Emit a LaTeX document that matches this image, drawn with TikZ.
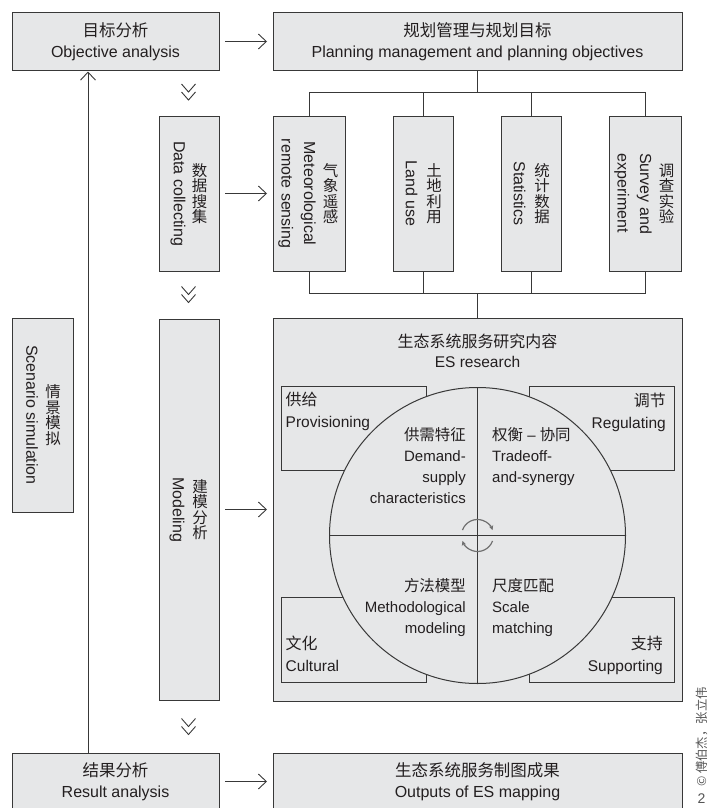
\documentclass[tikz,border=0pt]{standalone}
\usepackage{fontspec}
\setmainfont{Liberation Sans}
\newfontfamily\cjk{Noto Sans CJK SC}[Scale=1.03]
\usetikzlibrary{arrows.meta}
\definecolor{boxfill}{HTML}{E6E7E8}
\definecolor{boxline}{HTML}{383838}
\definecolor{txt}{HTML}{231F20}
\definecolor{cycc}{HTML}{707070}
\definecolor{wm}{HTML}{555555}
\begin{document}
\begin{tikzpicture}[x=1pt,y=1pt,
  box/.style={draw=boxline, fill=boxfill, line width=1pt, inner sep=0pt, outer sep=0pt,
    align=center, text=txt, font=\fontsize{16}{21.5}\selectfont},
  conn/.style={draw=boxline, line width=0.9pt},
  arr/.style={conn, -{Straight Barb[length=8pt,width=15pt]}},
  cn/.style={inner sep=0pt, align=center, text=txt, font=\cjk\fontsize{15}{15.5}\selectfont},
  en/.style={inner sep=0pt, align=center, text=txt, font=\fontsize{16}{22.5}\selectfont, rotate=-90},
  lab/.style={inner sep=0pt, text=txt, font=\fontsize{15.5}{21.5}\selectfont},
  quad/.style={inner sep=0pt, text=txt, font=\fontsize{15}{21}\selectfont},
  chev/.style={draw=boxline, line width=0.9pt},
  cycarr/.style={draw=cycc, line width=1.2pt, -{Stealth[length=4.5pt,width=4.5pt]}},
  dchev/.pic={\draw[chev] (-7,8) -- (0,0) -- (7,8) (-7,0) -- (0,-8) -- (7,0);}
]
\useasboundingbox (0,0) rectangle (708,-808);
\clip (0,0) rectangle (708,-808);

% top row
\node[box, minimum width=207pt, minimum height=57pt] (obj) at (115.5,-41.5)
  {{\cjk 目标分析}\\Objective analysis};
\node[box, minimum width=409pt, minimum height=57pt] (plan) at (477.5,-41.5)
  {{\cjk 规划管理与规划目标}\\Planning management and planning objectives};
\draw[arr, shorten <=6pt, shorten >=6pt] (obj) -- (plan);

% data row
\node[box, minimum width=60pt, minimum height=155pt] (dc) at (189,-193.5) {};
\node[cn] (dcC) at ([xshift=10.5pt]dc.center) {数\\据\\搜\\集};
\node[en] (dcE) at ([xshift=-11pt]dc.center) {Data collecting};

\node[box, minimum width=72pt, minimum height=155pt] (meteo) at (309,-193.5) {};
\node[cn] (meteoC) at ([xshift=21.5pt]meteo.center) {气\\象\\遥\\感};
\node[en] (meteoE) at ([xshift=-12pt]meteo.center) {Meteorological\\remote sensing};

\node[box, minimum width=60pt, minimum height=155pt] (land) at (423,-193.5) {};
\node[cn] (landC) at ([xshift=11pt]land.center) {土\\地\\利\\用};
\node[en] (landE) at ([xshift=-11.5pt]land.center) {Land use};

\node[box, minimum width=60pt, minimum height=155pt] (stat) at (531,-193.5) {};
\node[cn] (statC) at ([xshift=11pt]stat.center) {统\\计\\数\\据};
\node[en] (statE) at ([xshift=-11.5pt]stat.center) {Statistics};

\node[box, minimum width=72pt, minimum height=155pt] (survey) at (645,-193.5) {};
\node[cn] (surveyC) at ([xshift=21.5pt]survey.center) {调\\查\\实\\验};
\node[en] (surveyE) at ([xshift=-12pt]survey.center) {Survey and\\experiment};

\draw[arr, shorten <=6pt, shorten >=6pt] (dc) -- (meteo);

\coordinate (tbus) at (477.5,-92.5);
\coordinate (bbus) at (477.5,-293);
\draw[conn] (plan.south) -- (tbus);
\draw[conn] (meteo.north) |- (survey.north |- tbus) -- (survey.north);
\draw[conn] (land.north) -- (land.north |- tbus);
\draw[conn] (stat.north) -- (stat.north |- tbus);
\draw[conn] (meteo.south) |- (survey.south |- bbus) -- (survey.south);
\draw[conn] (land.south) -- (land.south |- bbus);
\draw[conn] (stat.south) -- (stat.south |- bbus);

% modeling row
\node[box, minimum width=61pt, minimum height=194pt] (sc) at (42.5,-415) {};
\node[cn] (scC) at ([xshift=10.5pt]sc.center) {情\\景\\模\\拟};
\node[en] (scE) at ([xshift=-10.5pt]sc.center) {Scenario simulation};

\node[box, minimum width=60pt, minimum height=381pt] (mod) at (189,-509.5) {};
\node[cn] (modC) at ([xshift=11pt]mod.center) {建\\模\\分\\析};
\node[en] (modE) at ([xshift=-12pt]mod.center) {Modeling};

\node[box, minimum width=409pt, minimum height=383pt] (es) at (477.5,-509.5) {};
\draw[conn] (bbus) -- (es.north);
\draw[arr, shorten <=6pt, shorten >=6pt] (mod) -- (es);

\node[anchor=base, align=center, inner sep=0pt, text=txt, font=\fontsize{15.5}{20}\selectfont]
  (estitle) at (477.5,-367) {{\cjk 生态系统服务研究内容}\\ES research};

\node[box, minimum width=145pt, minimum height=84pt] (prov) at (353.5,-428) {};
\node[box, minimum width=145pt, minimum height=84pt] (reg) at (601.5,-428) {};
\node[box, minimum width=145pt, minimum height=85pt] (cult) at (353.5,-639.5) {};
\node[box, minimum width=145pt, minimum height=85pt] (supp) at (601.5,-639.5) {};

\node[circle, draw=boxline, fill=boxfill, line width=1pt, minimum size=296pt,
  inner sep=0pt, outer sep=0pt] (circ) at (477.5,-535.5) {};
\draw[conn] (circ.north) -- (circ.south);
\draw[conn] (circ.west) -- (circ.east);

\node[lab, anchor=base west, align=left] (provT) at (285.5,-427) {{\cjk 供给}\\Provisioning};
\node[lab, anchor=base east, align=right] (regT) at (666,-428) {{\cjk 调节}\\Regulating};
\node[lab, anchor=base west, align=left] (cultT) at (285.5,-671) {{\cjk 文化}\\Cultural};
\node[lab, anchor=base east, align=right] (suppT) at (663,-671) {{\cjk 支持}\\Supporting};

\node[quad, anchor=base east, align=right] (tlT) at (466,-503)
  {{\cjk 供需特征}\\Demand-\\supply\\characteristics};
\node[quad, anchor=base west, align=left] (trT) at (492,-482)
  {{\cjk 权衡} – {\cjk 协同}\\Tradeoff-\\and-synergy};
\node[quad, anchor=base east, align=right] (blT) at (466,-633)
  {{\cjk 方法模型}\\Methodological\\modeling};
\node[quad, anchor=base west, align=left] (brT) at (492,-633)
  {{\cjk 尺度匹配}\\Scale\\matching};

\draw[cycarr] ([shift={(160:16)}]circ.center) arc[start angle=160, end angle=20, radius=16];
\draw[cycarr] ([shift={(-20:16)}]circ.center) arc[start angle=-20, end angle=-160, radius=16];

% bottom row
\node[box, minimum width=207pt, minimum height=57pt] (res) at (115.5,-781.5)
  {{\cjk 结果分析}\\Result analysis};
\node[box, minimum width=409pt, minimum height=57pt] (out) at (477.5,-781.5)
  {{\cjk 生态系统服务制图成果}\\Outputs of ES mapping};
\draw[arr, shorten <=6pt, shorten >=6pt] (res) -- (out);

\coordinate (vl) at (88,0);
\draw[arr, shorten >=1.5pt] (res.north -| vl) -- (obj.south -| vl);

% chevrons
\pic at (188.5,-92) {dchev};
\pic at (188.5,-294.5) {dchev};
\pic at (188.5,-726.5) {dchev};

% watermark
\node[rotate=90, anchor=base west, inner sep=0pt, text=wm, font=\cjk\fontsize{12}{12}\selectfont]
  (wmark) at (706,-787) {© 傅伯杰，张立伟};
\node[anchor=base, inner sep=0pt, text=wm, font=\fontsize{14}{14}\selectfont] (wm2) at (701.5,-803) {2};
\end{tikzpicture}
\end{document}
